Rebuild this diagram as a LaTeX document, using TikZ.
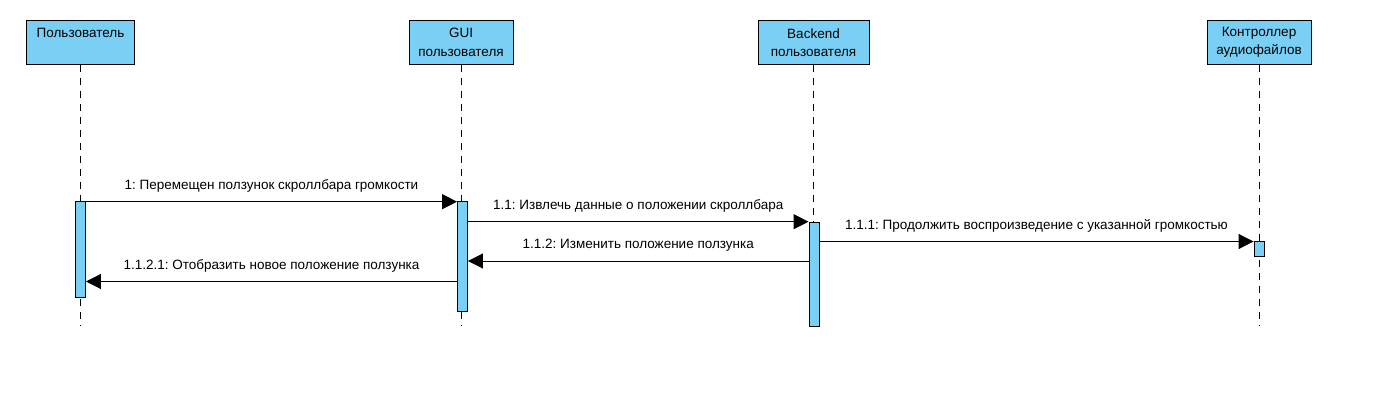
\documentclass[tikz,border=0pt]{standalone}
\usepackage{fontspec}
\setmainfont{Liberation Sans}
\usetikzlibrary{arrows.meta}
\definecolor{vpblue}{RGB}{122,207,245}
\frenchspacing
\begin{document}
\begin{tikzpicture}[x=1pt,y=-1pt,
  every node/.style={font=\fontsize{13.5}{18.5}\selectfont},
  actor/.style={draw, fill=vpblue, line width=0.9pt, anchor=north, minimum height=44pt, align=center, inner sep=0pt},
  bar/.style={draw, fill=vpblue, line width=0.9pt, minimum width=10pt, inner sep=0pt, anchor=north},
  lifeline/.style={line width=0.9pt, dash pattern=on 7pt off 6pt},
  msg/.style={line width=0.9pt, -{Triangle[length=15pt,width=15pt]}},
  lbl/.style={midway, above, inner sep=0pt, yshift=9pt}
]
\useasboundingbox (0,0) rectangle (1383,419);
% actors
\node[actor, minimum width=108pt] (a1) at (80.5,20) {Пользователь\\\mbox{}};
\node[actor, minimum width=104pt] (a2) at (461,20) {GUI\\пользователя};
\node[actor, minimum width=111pt] (a3) at (813.5,20) {Backend\\пользователя};
\node[actor, minimum width=104pt] (a4) at (1259,20) {Контроллер\\аудиофайлов};
% lifeline ends
\coordinate (e1) at (80.5,326);
\coordinate (e2) at (461,326);
\coordinate (e3) at (813.5,326);
\coordinate (e4) at (1259,326);
\draw[lifeline] (a1.south) -- (e1);
\draw[lifeline] (a2.south) -- (e2);
\draw[lifeline] (a3.south) -- (e3);
\draw[lifeline] (a4.south) -- (e4);
% activation bars
\node[bar, minimum height=96pt] (b1) at (80.5,201) {};
\node[bar, minimum height=110pt] (b2) at (462.5,201) {};
\node[bar, minimum height=104pt] (b3) at (814,222) {};
\node[bar, minimum height=14.5pt] (b4) at (1259,241.5) {};
% messages
\draw[msg] (b1.east |- 0,201.7) -- (b2.west |- 0,201.7)
  node[lbl] (m1) {1: Перемещен ползунок скроллбара громкости};
\draw[msg] (b2.east |- 0,221.7) -- (b3.west |- 0,221.7)
  node[lbl] (m2) {1.1: Извлечь данные о положении скроллбара};
\draw[msg] (b3.east |- 0,241.5) -- (b4.west |- 0,241.5)
  node[lbl] (m3) {1.1.1: Продолжить воспроизведение с указанной громкостью};
\draw[msg] (b3.west |- 0,261) -- (b2.east |- 0,261)
  node[lbl] (m4) {1.1.2: Изменить положение ползунка};
\draw[msg] (b2.west |- 0,281.5) -- (b1.east |- 0,281.5)
  node[lbl] (m5) {1.1.2.1: Отобразить новое положение ползунка};
\end{tikzpicture}
\end{document}
